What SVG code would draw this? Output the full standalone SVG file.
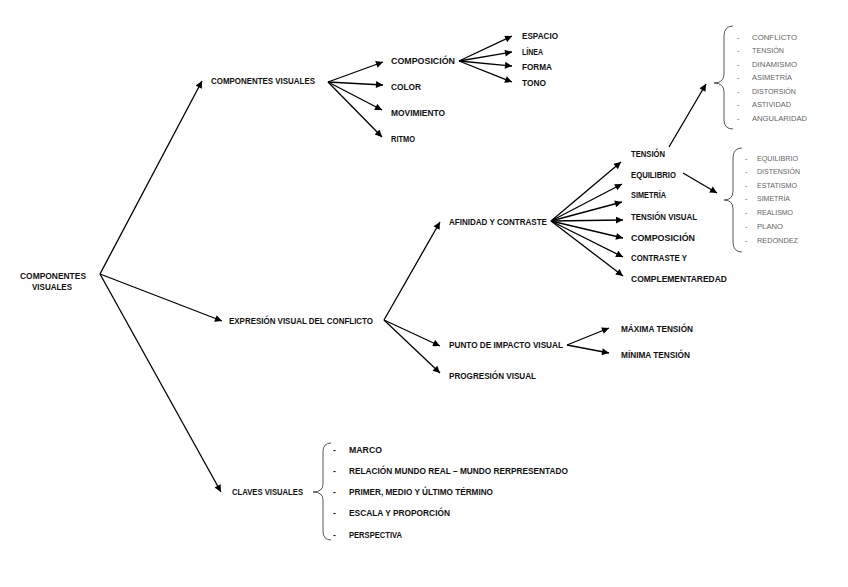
<svg xmlns="http://www.w3.org/2000/svg" width="848" height="587" viewBox="0 0 848 587">
<defs>
<marker id="ah" viewBox="0 0 10 10" refX="10" refY="5" markerWidth="10" markerHeight="7" markerUnits="userSpaceOnUse" orient="auto">
<path d="M0,0 L10,5 L0,10 Z" fill="#000"/>
</marker>
</defs>
<style>
.t{font-family:"Liberation Sans",Arial,sans-serif;font-size:8.5px;font-weight:bold;fill:#111;}
.g{font-family:"Liberation Sans",Arial,sans-serif;font-size:7.3px;fill:#666;}
.c line{stroke:#000;stroke-width:1.3;marker-end:url(#ah);}
.b{fill:none;stroke:#444;stroke-width:0.9;}
</style>
<rect width="848" height="587" fill="#fff"/>
<g id="connectors" class="c">
<line x1="100" y1="274" x2="202" y2="81"/>
<line x1="100" y1="274" x2="222" y2="321"/>
<line x1="100" y1="274" x2="221" y2="492"/>
<line x1="328" y1="82" x2="383" y2="62"/>
<line x1="328" y1="82" x2="383" y2="85"/>
<line x1="328" y1="82" x2="382" y2="110"/>
<line x1="328" y1="82" x2="382" y2="137"/>
<line x1="459" y1="61" x2="512" y2="36"/>
<line x1="459" y1="61" x2="512" y2="52"/>
<line x1="459" y1="61" x2="512" y2="66"/>
<line x1="459" y1="61" x2="512" y2="82"/>
<line x1="384" y1="320" x2="440" y2="222"/>
<line x1="384" y1="320" x2="440" y2="346"/>
<line x1="384" y1="320" x2="440" y2="373"/>
<line x1="551" y1="221" x2="621" y2="162"/>
<line x1="551" y1="221" x2="622" y2="184"/>
<line x1="551" y1="221" x2="622" y2="202"/>
<line x1="551" y1="221" x2="623" y2="220"/>
<line x1="551" y1="221" x2="623" y2="238"/>
<line x1="551" y1="221" x2="623" y2="257"/>
<line x1="551" y1="221" x2="623" y2="276"/>
<line x1="669" y1="147" x2="706" y2="84"/>
<line x1="683" y1="173" x2="717" y2="193"/>
<line x1="567" y1="345" x2="609" y2="328"/>
<line x1="567" y1="345" x2="609" y2="353"/>
</g>
<g id="root"><text class="t" x="53" y="279" text-anchor="middle" textLength="66" lengthAdjust="spacingAndGlyphs">COMPONENTES</text><text class="t" x="52" y="290" text-anchor="middle" textLength="40" lengthAdjust="spacingAndGlyphs">VISUALES</text></g>
<g id="n-componentes"><text class="t" x="211" y="84" textLength="104" lengthAdjust="spacingAndGlyphs">COMPONENTES VISUALES</text></g>
<g id="n-composicion1"><text class="t" x="391" y="64" textLength="64" lengthAdjust="spacingAndGlyphs">COMPOSICIÓN</text></g>
<g id="n-color"><text class="t" x="391" y="90" textLength="30" lengthAdjust="spacingAndGlyphs">COLOR</text></g>
<g id="n-movimiento"><text class="t" x="391" y="116" textLength="54" lengthAdjust="spacingAndGlyphs">MOVIMIENTO</text></g>
<g id="n-ritmo"><text class="t" x="391" y="142" textLength="24" lengthAdjust="spacingAndGlyphs">RITMO</text></g>
<g id="n-espacio"><text class="t" x="522" y="39" textLength="36" lengthAdjust="spacingAndGlyphs">ESPACIO</text></g>
<g id="n-linea"><text class="t" x="522" y="55" textLength="21" lengthAdjust="spacingAndGlyphs">LÍNEA</text></g>
<g id="n-forma"><text class="t" x="522" y="70" textLength="30" lengthAdjust="spacingAndGlyphs">FORMA</text></g>
<g id="n-tono"><text class="t" x="522" y="86" textLength="24" lengthAdjust="spacingAndGlyphs">TONO</text></g>
<g id="n-expresion"><text class="t" x="229" y="324" textLength="144" lengthAdjust="spacingAndGlyphs">EXPRESIÓN VISUAL DEL CONFLICTO</text></g>
<g id="n-afinidad"><text class="t" x="449" y="225" textLength="98" lengthAdjust="spacingAndGlyphs">AFINIDAD Y CONTRASTE</text></g>
<g id="n-tension"><text class="t" x="631" y="157" textLength="34" lengthAdjust="spacingAndGlyphs">TENSIÓN</text></g>
<g id="n-equilibrio"><text class="t" x="631" y="178" textLength="45" lengthAdjust="spacingAndGlyphs">EQUILIBRIO</text></g>
<g id="n-simetria"><text class="t" x="631" y="198" textLength="35" lengthAdjust="spacingAndGlyphs">SIMETRÍA</text></g>
<g id="n-tensionvisual"><text class="t" x="631" y="220" textLength="66" lengthAdjust="spacingAndGlyphs">TENSIÓN VISUAL</text></g>
<g id="n-composicion2"><text class="t" x="631" y="241" textLength="64" lengthAdjust="spacingAndGlyphs">COMPOSICIÓN</text></g>
<g id="n-contraste"><text class="t" x="631" y="261" textLength="56" lengthAdjust="spacingAndGlyphs">CONTRASTE Y</text></g>
<g id="n-complementaredad"><text class="t" x="631" y="282" textLength="96" lengthAdjust="spacingAndGlyphs">COMPLEMENTAREDAD</text></g>
<g id="n-punto"><text class="t" x="449" y="348" textLength="114" lengthAdjust="spacingAndGlyphs">PUNTO DE IMPACTO VISUAL</text></g>
<g id="n-maxima"><text class="t" x="621" y="332" textLength="72" lengthAdjust="spacingAndGlyphs">MÁXIMA TENSIÓN</text></g>
<g id="n-minima"><text class="t" x="621" y="358" textLength="69" lengthAdjust="spacingAndGlyphs">MÍNIMA TENSIÓN</text></g>
<g id="n-progresion"><text class="t" x="449" y="379" textLength="87" lengthAdjust="spacingAndGlyphs">PROGRESIÓN VISUAL</text></g>
<g id="n-claves"><text class="t" x="232" y="495" textLength="71" lengthAdjust="spacingAndGlyphs">CLAVES VISUALES</text></g>
<g id="list-tension">
<path class="b" d="M733,26 Q724,26 724,36 L724,74 Q724,83 714,83 Q724,83 724,92 L724,120 Q724,129 733,129"/>
<g class="g">
<text x="737" y="40">-</text><text x="752" y="40" textLength="45" lengthAdjust="spacingAndGlyphs">CONFLICTO</text>
<text x="737" y="53">-</text><text x="752" y="53" textLength="32" lengthAdjust="spacingAndGlyphs">TENSIÓN</text>
<text x="737" y="67">-</text><text x="752" y="67" textLength="45" lengthAdjust="spacingAndGlyphs">DINAMISMO</text>
<text x="737" y="80">-</text><text x="752" y="80" textLength="40" lengthAdjust="spacingAndGlyphs">ASIMETRÍA</text>
<text x="737" y="94">-</text><text x="752" y="94" textLength="44" lengthAdjust="spacingAndGlyphs">DISTORSIÓN</text>
<text x="737" y="107">-</text><text x="752" y="107" textLength="39" lengthAdjust="spacingAndGlyphs">ASTIVIDAD</text>
<text x="737" y="121">-</text><text x="752" y="121" textLength="55" lengthAdjust="spacingAndGlyphs">ANGULARIDAD</text>
</g>
</g>
<g id="list-equilibrio">
<path class="b" d="M742,148 Q733,148 733,158 L733,191 Q733,200 724,200 Q733,200 733,209 L733,242 Q733,252 742,252"/>
<g class="g">
<text x="745" y="161">-</text><text x="757" y="161" textLength="41" lengthAdjust="spacingAndGlyphs">EQUILIBRIO</text>
<text x="745" y="174">-</text><text x="757" y="174" textLength="43" lengthAdjust="spacingAndGlyphs">DISTENSIÓN</text>
<text x="745" y="188">-</text><text x="757" y="188" textLength="40" lengthAdjust="spacingAndGlyphs">ESTATISMO</text>
<text x="745" y="201">-</text><text x="757" y="201" textLength="33" lengthAdjust="spacingAndGlyphs">SIMETRÍA</text>
<text x="745" y="215">-</text><text x="757" y="215" textLength="36" lengthAdjust="spacingAndGlyphs">REALISMO</text>
<text x="745" y="229">-</text><text x="757" y="229" textLength="26" lengthAdjust="spacingAndGlyphs">PLANO</text>
<text x="745" y="243">-</text><text x="757" y="243" textLength="41" lengthAdjust="spacingAndGlyphs">REDONDEZ</text>
</g>
</g>
<g id="list-claves">
<path class="b" d="M331,443 Q323,443 323,452 L323,484 Q323,492 313,492 Q323,492 323,500 L323,531 Q323,540 331,540"/>
<g class="t">
<text x="333" y="453">-</text><text x="349" y="453" textLength="33" lengthAdjust="spacingAndGlyphs">MARCO</text>
<text x="333" y="474">-</text><text x="349" y="474" textLength="219" lengthAdjust="spacingAndGlyphs">RELACIÓN MUNDO REAL – MUNDO RERPRESENTADO</text>
<text x="333" y="495">-</text><text x="349" y="495" textLength="144" lengthAdjust="spacingAndGlyphs">PRIMER, MEDIO Y ÚLTIMO TÉRMINO</text>
<text x="333" y="516">-</text><text x="349" y="516" textLength="101" lengthAdjust="spacingAndGlyphs">ESCALA Y PROPORCIÓN</text>
<text x="333" y="538">-</text><text x="349" y="538" textLength="53" lengthAdjust="spacingAndGlyphs">PERSPECTIVA</text>
</g>
</g>
</svg>
